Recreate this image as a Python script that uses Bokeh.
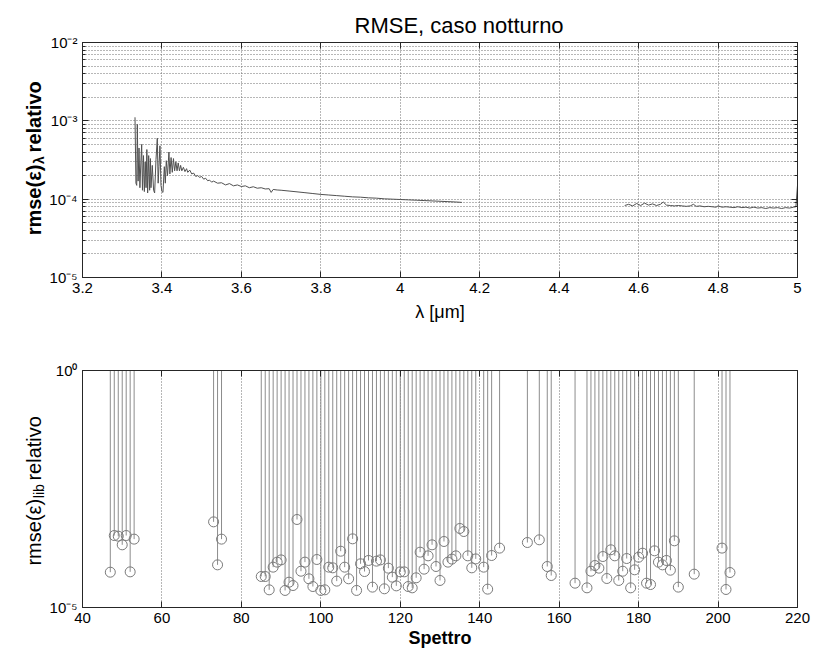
import math
from bokeh.plotting import figure
from bokeh.layouts import column, row
from bokeh.models import (Range1d, FixedTicker, CustomJSTickFormatter,
                          ColumnDataSource, LinearAxis)
from bokeh.core.properties import value
from bokeh.embed import file_html
from bokeh.resources import INLINE

FONT = "Liberation Sans"

# ---------------- data: top panel (rmse vs wavelength, values in units of 1e-4) ----------------
lam_a = [3.3322, 3.3345, 3.3365, 3.3380, 3.3400, 3.3423, 3.3445, 3.3470, 3.3490, 3.3510,
         3.3535, 3.3557, 3.3580, 3.3600, 3.3620, 3.3640, 3.3666, 3.3690, 3.3710, 3.3724,
         3.3757, 3.3790, 3.3816, 3.3850, 3.3883, 3.3905, 3.3925, 3.3950, 3.3976, 3.4000,
         3.4026, 3.4060, 3.4085, 3.4109, 3.4140, 3.4176, 3.4200, 3.4230, 3.4260, 3.4290,
         3.4320, 3.4350, 3.4380, 3.4410, 3.4440, 3.4470, 3.4500, 3.4540, 3.4580, 3.4620,
         3.465, 3.470, 3.475, 3.480, 3.485, 3.490, 3.495, 3.500, 3.505, 3.510,
         3.515, 3.520, 3.525, 3.530, 3.540, 3.550, 3.560, 3.570, 3.580, 3.590,
         3.600, 3.610, 3.620, 3.630, 3.640, 3.650, 3.660, 3.670, 3.675, 3.680,
         3.690, 3.700, 3.720, 3.740, 3.760, 3.780, 3.800, 3.820, 3.840, 3.860,
         3.880, 3.900, 3.920, 3.940, 3.960, 3.980, 4.000, 4.020, 4.040, 4.060,
         4.080, 4.100, 4.120, 4.140, 4.155]
rmse_a_e4 = [11.1, 1.6, 1.5, 9.0, 1.7, 4.5, 1.4, 3.0, 5.0, 1.3,
             3.6, 1.25, 3.0, 1.4, 4.3, 1.2, 3.6, 1.3, 3.3, 1.4,
             2.7, 1.3, 1.2, 3.2, 6.0, 1.6, 2.6, 4.8, 1.5, 1.25,
             1.22, 2.6, 1.6, 3.1, 2.0, 4.0, 2.1, 3.4, 2.2, 3.3,
             2.3, 3.0, 2.3, 2.9, 2.3, 2.7, 2.3, 2.55, 2.25, 2.45,
             2.2, 2.35, 2.1, 2.15, 1.95, 2.0, 1.9, 1.95, 1.8, 1.85,
             1.72, 1.75, 1.65, 1.7, 1.6, 1.62, 1.52, 1.58, 1.48, 1.52,
             1.45, 1.48, 1.40, 1.44, 1.38, 1.40, 1.35, 1.36, 1.22, 1.33,
             1.31, 1.30, 1.27, 1.24, 1.21, 1.18, 1.15, 1.13, 1.11, 1.09,
             1.07, 1.06, 1.04, 1.03, 1.01, 1.00, 0.99, 0.98, 0.97, 0.96,
             0.95, 0.94, 0.93, 0.92, 0.91]
lam_b = [4.565, 4.575, 4.585, 4.595, 4.605, 4.615, 4.625, 4.635, 4.645, 4.655,
         4.662, 4.670, 4.680, 4.690, 4.700, 4.710, 4.720, 4.730, 4.738, 4.745,
         4.755, 4.765, 4.775, 4.785, 4.795, 4.800, 4.810, 4.820, 4.830, 4.840,
         4.850, 4.860, 4.870, 4.880, 4.890, 4.900, 4.910, 4.920, 4.930, 4.940,
         4.950, 4.960, 4.970, 4.980, 4.990, 4.996, 5.000]
rmse_b_e4 = [0.83, 0.86, 0.82, 0.88, 0.83, 0.89, 0.84, 0.87, 0.83, 0.86,
             0.92, 0.84, 0.83, 0.82, 0.83, 0.82, 0.81, 0.82, 0.86, 0.81,
             0.82, 0.80, 0.81, 0.80, 0.79, 0.82, 0.79, 0.80, 0.79, 0.78,
             0.80, 0.78, 0.79, 0.77, 0.79, 0.77, 0.78, 0.76, 0.78, 0.77,
             0.78, 0.76, 0.78, 0.77, 0.79, 0.80, 1.50]

# ---------------- data: bottom panel (stem plot) ----------------
spettro = [47, 48, 49, 50, 51, 52, 53, 73, 74, 75,
           85, 86, 87, 88, 89, 90, 91, 92, 93, 94,
           95, 96, 97, 98, 99, 100, 101, 102, 103, 104,
           105, 106, 107, 108, 109, 110, 111, 112, 113, 114,
           115, 116, 117, 118, 119, 120, 121, 122, 123, 124,
           125, 126, 127, 128, 129, 130, 131, 132, 133, 134,
           135, 136, 137, 138, 139, 141, 142, 143, 145, 152,
           155, 157, 158, 164, 167, 168, 169, 170, 171, 172,
           173, 174, 175, 176, 177, 178, 179, 180, 181, 182,
           183, 184, 185, 186, 187, 188, 189, 190, 194, 201,
           202, 203]
rmse_lib = [5.56e-5, 3.30e-4, 3.20e-4, 2.10e-4, 3.30e-4, 5.65e-5, 2.77e-4, 6.41e-4, 7.94e-5, 2.77e-4,
            4.51e-5, 4.51e-5, 2.36e-5, 7.10e-5, 9.06e-5, 1.01e-4, 2.29e-5, 3.42e-5, 2.91e-5, 7.19e-4,
            5.83e-5, 9.06e-5, 4.03e-5, 2.77e-5, 1.03e-4, 2.29e-5, 2.36e-5, 7.10e-5, 6.87e-5, 3.60e-5,
            1.54e-4, 7.10e-5, 4.03e-5, 2.81e-4, 2.29e-5, 8.36e-5, 5.74e-5, 9.82e-5, 2.69e-5, 9.51e-5,
            1.01e-4, 2.48e-5, 6.76e-5, 4.37e-5, 2.86e-5, 5.65e-5, 5.65e-5, 2.77e-5, 2.60e-5, 4.23e-5,
            1.47e-4, 6.44e-5, 1.23e-4, 2.10e-4, 7.33e-5, 3.72e-5, 2.47e-4, 9.06e-5, 1.05e-4, 1.23e-4,
            4.65e-4, 4.01e-4, 1.23e-4, 6.87e-5, 1.06e-4, 7.10e-5, 2.44e-5, 1.25e-4, 1.79e-4, 2.35e-4,
            2.68e-4, 7.33e-5, 4.73e-5, 3.26e-5, 2.60e-5, 5.83e-5, 7.69e-5, 6.76e-5, 1.19e-4, 4.09e-5,
            1.65e-4, 1.23e-4, 3.72e-5, 5.83e-5, 1.08e-4, 2.60e-5, 6.24e-5, 1.15e-4, 1.40e-4, 3.26e-5,
            3.05e-5, 1.57e-4, 9.06e-5, 7.94e-5, 9.82e-5, 6.12e-5, 2.55e-4, 2.69e-5, 5.05e-5, 1.79e-4,
            2.40e-5, 5.47e-5]

# ---------------- ticks ----------------
x_ticks_top = [3.2, 3.4, 3.6, 3.8, 4.0, 4.2, 4.4, 4.6, 4.8, 5.0]
x_ticks_bot = [40, 60, 80, 100, 120, 140, 160, 180, 200, 220]
y_decades_top = [1e-5, 1e-4, 1e-3, 1e-2]
y_minor_top = [m * d for d in [1e-5, 1e-4, 1e-3] for m in range(2, 10)]
y_ticks_bot = [1e-5, 1e0]
STEM_TOP = 1e0

AX = "#262626"
GRID = "#6f6f6f"
LBL_W = 46

sup_fmt_code = """
const e = Math.round(Math.log10(tick));
const m = {'-':'\u207b','0':'\u2070','1':'\u00b9','2':'\u00b2','3':'\u00b3','4':'\u2074','5':'\u2075','6':'\u2076','7':'\u2077','8':'\u2078','9':'\u2079'};
return '10' + String(e).split('').map(c => m[c]).join('');
"""
num_fmt_code = "return String(Number(tick.toFixed(1)));"
empty_code = "return '';"


def style_axis(ax, size="15px"):
    ax.major_label_text_font = FONT
    ax.major_label_text_font_size = size
    ax.major_label_text_color = "black"
    ax.axis_line_color = AX
    ax.major_tick_line_color = AX
    ax.minor_tick_line_color = AX
    ax.major_tick_in = 6
    ax.major_tick_out = 0
    ax.minor_tick_in = 3
    ax.minor_tick_out = 0
    ax.axis_label_text_font = FONT
    ax.axis_label_text_color = "black"


def add_box_axes(p, xt, yt, yminor):
    top = LinearAxis(ticker=FixedTicker(ticks=xt, minor_ticks=[]),
                     formatter=CustomJSTickFormatter(code=empty_code))
    right = LinearAxis(ticker=FixedTicker(ticks=yt, minor_ticks=yminor),
                       formatter=CustomJSTickFormatter(code=empty_code))
    for a in (top, right):
        style_axis(a, "0px")
        a.major_label_standoff = 0
    p.add_layout(top, "above")
    p.add_layout(right, "right")


def label_fig(height, y_sub, main, sub, rest, size, sub_size, style, w_sub, gap):
    """Rotated y label: main text ends where the subscript starts, rest follows the subscript."""
    f = figure(width=LBL_W, height=height, x_range=Range1d(0, LBL_W), y_range=Range1d(0, height),
               x_axis_type=None, y_axis_type=None, output_backend="svg", toolbar_location=None,
               min_border=0, outline_line_color=None)
    base_x = 33
    parts = [(base_x, y_sub - 1, main, size, "right"),
             (base_x + 5, y_sub, sub, sub_size, "left"),
             (base_x, y_sub + w_sub + gap, rest, size, "left")]
    for (x, y, t, s, al) in parts:
        f.text(x=[x], y=[y], text=[t], angle=math.pi / 2, text_font=value(FONT),
               text_font_size=value(f"{s}px"), text_font_style=value(style),
               text_align=al, text_baseline="alphabetic", text_color="black")
    return f


# ---------------- top figure ----------------
H1 = 325
p1 = figure(width=813 - LBL_W, height=H1, x_range=Range1d(3.2, 5.0), y_range=Range1d(1e-5, 1e-2),
            y_axis_type="log", output_backend="svg", toolbar_location=None,
            min_border_left=80 - LBL_W, min_border_right=16, min_border_top=42, min_border_bottom=48,
            title="RMSE, caso notturno")
p1.title.align = "left"
p1.title.offset = 272
p1.title.text_font = FONT
p1.title.text_font_size = "22px"
p1.title.text_font_style = "normal"
p1.title.text_color = "black"
p1.outline_line_color = AX

p1.line(lam_a, [v * 1e-4 for v in rmse_a_e4], line_color="#505050", line_width=1)
p1.line(lam_b, [v * 1e-4 for v in rmse_b_e4], line_color="#505050", line_width=1)

p1.xaxis.ticker = FixedTicker(ticks=x_ticks_top, minor_ticks=[])
p1.xaxis.formatter = CustomJSTickFormatter(code=num_fmt_code)
p1.yaxis.ticker = FixedTicker(ticks=y_decades_top, minor_ticks=y_minor_top)
p1.yaxis.formatter = CustomJSTickFormatter(code=sup_fmt_code)
for a in p1.xaxis + p1.yaxis:
    style_axis(a)
p1.xaxis.axis_label = "λ [μm]"
p1.xaxis.axis_label_text_font_size = "18px"
p1.xaxis.axis_label_text_font_style = "normal"
p1.xaxis.axis_label_standoff = 6
p1.xgrid.ticker = FixedTicker(ticks=x_ticks_top, minor_ticks=[])
p1.ygrid.ticker = FixedTicker(ticks=y_decades_top, minor_ticks=y_minor_top)
for g in (p1.xgrid, p1.ygrid):
    g.grid_line_color = GRID
    g.grid_line_dash = "1 2"
    g.grid_line_width = 1
p1.ygrid.minor_grid_line_color = GRID
p1.ygrid.minor_grid_line_dash = "1 2"
add_box_axes(p1, x_ticks_top, y_decades_top, y_minor_top)
lab1 = label_fig(H1, H1 - 168, "rmse(ε)", "λ", "relativo", 20, 14, "bold", 9, 7)

# ---------------- bottom figure ----------------
H2 = 336
p2 = figure(width=813 - LBL_W, height=H2, x_range=Range1d(40, 220), y_range=Range1d(1e-5, 1e0),
            y_axis_type="log", output_backend="svg", toolbar_location=None,
            min_border_left=80 - LBL_W, min_border_right=16, min_border_top=45, min_border_bottom=54)
p2.outline_line_color = AX

src = ColumnDataSource(dict(x=spettro, y=rmse_lib, top=[STEM_TOP] * len(spettro)))
p2.segment(x0="x", y0="top", x1="x", y1="y", source=src, line_color="#8c8c8c", line_width=1)
p2.scatter("x", "y", source=src, marker="circle", size=10, fill_color=None,
           line_color="#7a7a7a", line_width=1)

p2.xaxis.ticker = FixedTicker(ticks=x_ticks_bot, minor_ticks=[])
p2.yaxis.ticker = FixedTicker(ticks=y_ticks_bot, minor_ticks=[])
p2.yaxis.formatter = CustomJSTickFormatter(code=sup_fmt_code)
for a in p2.xaxis + p2.yaxis:
    style_axis(a)
p2.yaxis.major_tick_in = 0
p2.xaxis.axis_label = "Spettro"
p2.xaxis.axis_label_text_font_size = "18px"
p2.xaxis.axis_label_text_font_style = "bold"
p2.xaxis.axis_label_standoff = 2
p2.xgrid.ticker = FixedTicker(ticks=x_ticks_bot, minor_ticks=[])
p2.xgrid.grid_line_color = GRID
p2.xgrid.grid_line_dash = "1 2"
p2.ygrid.grid_line_color = None
add_box_axes(p2, x_ticks_bot, [], [])
lab2 = label_fig(H2, 661 - 506, "rmse(ε)", "lib", "relativo", 20, 14, "normal", 17, 8)

layout = column(row(lab1, p1, spacing=0), row(lab2, p2, spacing=0), spacing=0)
open("out.html", "w").write(file_html(layout, INLINE))
